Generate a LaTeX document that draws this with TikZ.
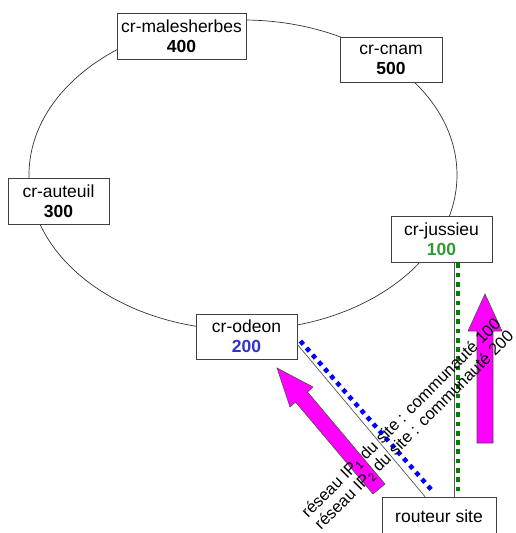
\documentclass[tikz,border=0pt]{standalone}
\usepackage{fontspec}
\setmainfont{Liberation Sans}
\definecolor{numgreen}{HTML}{339933}
\definecolor{numblue}{HTML}{3333CC}
\definecolor{arrowpink}{HTML}{FF00FF}
\definecolor{dotgreen}{HTML}{008000}
\definecolor{dotblue}{HTML}{0000FF}
\begin{document}
\begin{tikzpicture}[x=1pt,y=-1pt,
  router/.style={draw=black!75, fill=white, line width=0.8pt, align=center,
    inner sep=0pt, font=\fontsize{17.5}{20}\selectfont},
  ring/.style={draw=black!80, line width=0.7pt},
  link/.style={draw=black!65, line width=0.7pt},
  bluedots/.style={draw=dotblue, line width=4.5pt, dash pattern=on 4.5pt off 4.7pt},
  greendots/.style={draw=dotgreen, line width=4.8pt, dash pattern=on 4.7pt off 4.6pt},
  bigarrow/.style={fill=arrowpink, draw=black!70, line width=0.6pt, line join=miter},
  rotlabel/.style={rotate=45, anchor=base west, inner sep=0pt,
    font=\fontsize{16.5}{18}\selectfont}
]
\useasboundingbox (0,0) rectangle (515,533);
\clip (0,0) rectangle (515,533);
\fill[white] (0,0) rectangle (515,533);

% backbone ring
\draw[ring] (243,175) ellipse [x radius=214, y radius=155];

% routers on the ring
\node[router, minimum width=129, minimum height=46] (males) at (181.5,36)
  {cr-malesherbes\\\textbf{400}};
\node[router, minimum width=102, minimum height=45] (cnam) at (391,59.5)
  {cr-cnam\\\textbf{500}};
\node[router, minimum width=101, minimum height=46] (auteuil) at (58.5,201)
  {cr-auteuil\\\textbf{300}};
\node[router, minimum width=101, minimum height=46] (jussieu) at (441.5,239)
  {cr-jussieu\\\textbf{\color{numgreen}100}};
\node[router, minimum width=101, minimum height=45] (odeon) at (246.5,336.5)
  {cr-odeon\\\textbf{\color{numblue}200}};
\node[router, minimum width=114, minimum height=38] (site) at (439,516)
  {routeur site};

% access links to the site router
\draw[link] ([yshift=-8pt]odeon.east) -- ([xshift=-14pt]site.north);
\draw[bluedots] ([xshift=3pt,yshift=-4.5pt]odeon.east) -- ([xshift=-6pt,yshift=5pt]site.north);
\coordinate (jl) at ([xshift=12.5pt]jussieu.south);
\coordinate (jg) at ([xshift=16.5pt,yshift=-1pt]jussieu.south);
\draw[link] (jl) -- (jl |- site.north);
\draw[greendots] (jg) -- ([yshift=3pt]jg |- site.north);

% announcement arrows
\draw[bigarrow] (277,368) -- (313,387) -- (307.5,392) -- (385,484) -- (373,494)
  -- (295.5,402) -- (290,407) -- cycle;
\draw[bigarrow] (485,294) -- (502,331) -- (493,331) -- (493,443) -- (477,443)
  -- (477,331) -- (468,331) -- cycle;

% announced prefixes
\node[rotlabel] (lbl1) at (308,519) {réseau IP\textsubscript{1} du site : communauté 100};
\node[rotlabel] (lbl2) at (321,531) {réseau IP\textsubscript{2} du site : communauté 200};
\end{tikzpicture}
\end{document}
